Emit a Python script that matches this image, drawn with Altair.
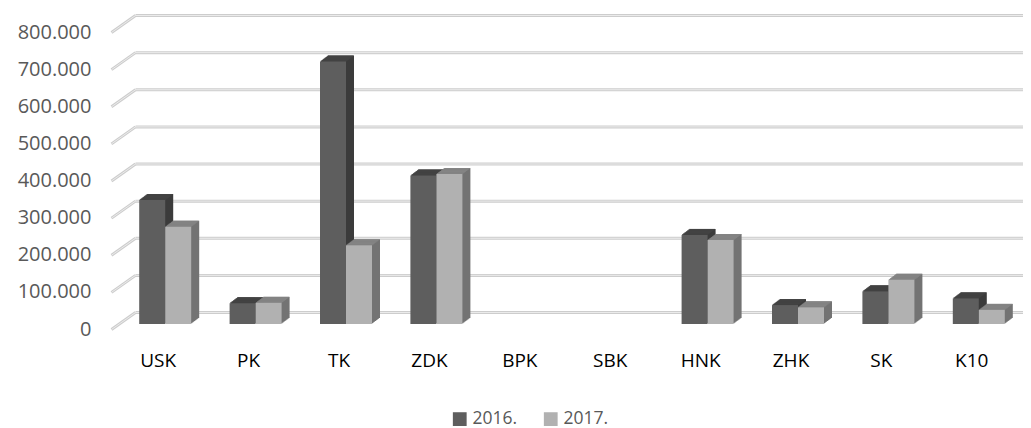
import altair as alt
import pandas as pd

categories = ["USK", "PK", "TK", "ZDK", "BPK", "SBK", "HNK", "ZHK", "SK", "K10"]
series_names = ["2016.", "2017."]
values_2016 = [334000, 56000, 707000, 400000, 0, 0, 240000, 51000, 88000, 69000]
values_2017 = [262000, 57000, 212000, 404000, 0, 0, 226000, 45000, 119000, 38000]
y_ticks = [0, 100000, 200000, 300000, 400000, 500000, 600000, 700000, 800000]

front_colors = ["#5e5e5e", "#b1b1b1"]
top_colors = ["#454545", "#888888"]
side_colors = ["#3b3b3b", "#737373"]

rows = []
for c, a, b in zip(categories, values_2016, values_2017):
    rows.append({"cat": c, "series": series_names[0], "value": a})
    rows.append({"cat": c, "series": series_names[1], "value": b})
df = pd.DataFrame(rows)
grid_df = pd.DataFrame({"tick": y_ticks})

W, H = 904, 297
RIGHT_PAD = 6
BAR_W = 26
SHIFT = 7          # bars sit a little right of the label centres
STEPS = 8          # depth extrusion steps
DX, DY = 1.0, 0.75
BACK_DY, FRONT_DY = -11.5, 5.5
BACK_DX, LEFT_DX = 22.5, -1.5

x_scale = alt.Scale(domain=categories, paddingInner=0, paddingOuter=0)
y_scale = alt.Scale(domain=[0, 800000], nice=False, zero=True)

x_axis = alt.Axis(title=None, domain=False, ticks=False, labelAngle=0,
                  labelFont="Open Sans", labelFontSize=19, labelColor="#000000",
                  labelPadding=27, grid=False)
y_axis = alt.Axis(title=None, domain=False, ticks=False, grid=False, values=y_ticks,
                  labelExpr="replace(format(datum.value, ','), regexp(',', 'g'), '.')",
                  labelFont="Open Sans", labelFontSize=20, labelColor="#595959",
                  labelPadding=22, labelOffset=5)

layers = []

# back-wall gridlines + diagonal floor edges
for color, sw in [("#cdcdcd", 3), ("#ebebeb", 1)]:
    layers.append(
        alt.Chart(grid_df).mark_rule(color=color, strokeWidth=sw, yOffset=BACK_DY).encode(
            y=alt.Y("tick:Q", scale=y_scale, axis=y_axis),
            x=alt.value(BACK_DX), x2=alt.value(W + RIGHT_PAD),
        )
    )
    layers.append(
        alt.Chart(grid_df).mark_rule(color=color, strokeWidth=sw, yOffset=FRONT_DY,
                                     y2Offset=BACK_DY).encode(
            y=alt.Y("tick:Q", scale=y_scale, axis=y_axis),
            y2=alt.Y2("tick:Q"),
            x=alt.value(LEFT_DX), x2=alt.value(BACK_DX),
        )
    )

for i, s in enumerate(series_names):
    base_off = (-BAR_W / 2 if i == 0 else BAR_W / 2) + SHIFT
    src = alt.Chart(df).transform_filter(
        (alt.datum.series == s) & (alt.datum.value > 0)
    )
    # side / depth block
    for k in range(1, STEPS + 1):
        layers.append(
            src.mark_bar(width=BAR_W, color=side_colors[i], xOffset=base_off + k * DX,
                         yOffset=-k * DY, y2Offset=-k * DY).encode(
                x=alt.X("cat:N", scale=x_scale, axis=x_axis, sort=categories),
                y=alt.Y("value:Q", scale=y_scale, axis=y_axis),
            )
        )
    # top face strips
    for k in range(1, STEPS + 1):
        layers.append(
            src.mark_bar(width=BAR_W, color=top_colors[i], xOffset=base_off + k * DX - 0.5,
                         yOffset=-k * DY, y2Offset=-(k - 1) * DY).encode(
                x=alt.X("cat:N", scale=x_scale, axis=x_axis, sort=categories),
                y=alt.Y("value:Q", scale=y_scale, axis=y_axis),
                y2=alt.Y2("value:Q"),
            )
        )
    # front face
    layers.append(
        src.mark_bar(width=BAR_W, xOffset=base_off).encode(
            x=alt.X("cat:N", scale=x_scale, axis=x_axis, sort=categories),
            y=alt.Y("value:Q", scale=y_scale, axis=y_axis),
            color=alt.Color("series:N",
                            scale=alt.Scale(domain=series_names, range=front_colors),
                            legend=alt.Legend(title=None, orient="none", legendX=338,
                                              legendY=383, direction="horizontal",
                                              symbolType="square", symbolSize=190,
                                              symbolStrokeWidth=0,
                                              labelFont="Open Sans", labelFontSize=17.5,
                                              labelColor="#595959", labelOffset=4,
                                              columnPadding=24)),
        )
    )

chart = alt.layer(*layers).properties(
    width=W, height=H,
    padding={"left": 105, "top": 19, "right": RIGHT_PAD, "bottom": 104},
    autosize=alt.AutoSizeParams(type="none"),
    background="white",
).configure_view(stroke=None)

chart.save("out.html", embed_options={"renderer": "svg", "actions": False})
